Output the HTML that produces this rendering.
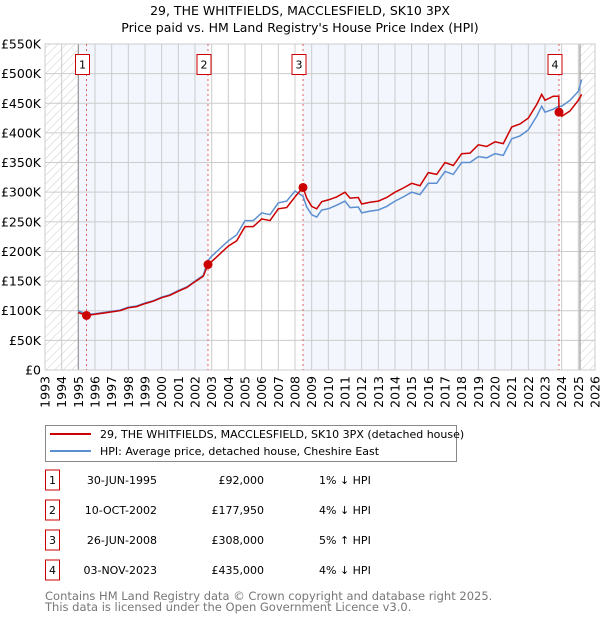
<!DOCTYPE html>
<html><head><meta charset="utf-8"><style>
body{margin:0;background:#fff;font-family:"DejaVu Sans","Liberation Sans",sans-serif}
svg text{font-family:"DejaVu Sans","Liberation Sans",sans-serif}
</style></head><body>
<svg id="chart" width="600" height="620" viewBox="0 0 600 620" xmlns="http://www.w3.org/2000/svg">
<defs><pattern id="hatch" width="6" height="6" patternUnits="userSpaceOnUse" patternTransform="rotate(45)"><line x1="0" y1="0" x2="0" y2="6" stroke="#ccc" stroke-width="1"/></pattern></defs>
<text x="300" y="15" text-anchor="middle" font-size="12.5">29, THE WHITFIELDS, MACCLESFIELD, SK10 3PX</text>
<text x="300" y="32" text-anchor="middle" font-size="12.5">Price paid vs. HM Land Registry's House Price Index (HPI)</text>
<g id="bg"></g><g id="grid"></g><g id="series"></g><g id="axes"></g>
<g>
<rect x="45.5" y="425.5" width="411" height="36" fill="#fff" stroke="#888"/>
<line x1="50" y1="434" x2="91" y2="434" stroke="#cc0000" stroke-width="2"/>
<text x="100" y="438" font-size="11">29, THE WHITFIELDS, MACCLESFIELD, SK10 3PX (detached house)</text>
<line x1="50" y1="451" x2="91" y2="451" stroke="#5b8fd0" stroke-width="2"/>
<text x="100" y="455" font-size="11">HPI: Average price, detached house, Cheshire East</text>
</g>
<g id="table" font-size="11"></g>
<text x="45" y="600" font-size="11.5" fill="#777">Contains HM Land Registry data © Crown copyright and database right 2025.</text>
<text x="45" y="611" font-size="11.5" fill="#777">This data is licensed under the Open Government Licence v3.0.</text>
</svg>
<script>
const dates=[1995.0,1995.5,1996.0,1996.5,1997.0,1997.5,1998.0,1998.5,1999.0,1999.5,2000.0,2000.5,2001.0,2001.5,2002.0,2002.5,2002.78,2003.0,2003.5,2004.0,2004.5,2005.0,2005.5,2006.0,2006.5,2007.0,2007.5,2008.0,2008.48,2008.7,2009.0,2009.3,2009.6,2010.0,2010.5,2011.0,2011.3,2011.8,2012.0,2012.5,2013.0,2013.5,2014.0,2014.5,2015.0,2015.5,2016.0,2016.5,2017.0,2017.5,2018.0,2018.5,2019.0,2019.5,2020.0,2020.5,2021.0,2021.5,2022.0,2022.5,2022.8,2023.0,2023.5,2023.83,2023.84,2024.0,2024.5,2025.0,2025.2];
const hpiValues=[100,94,95,97,99,101,106,108,113,117,123,127,134,140,150,160,185,192,205,218,228,252,252,265,262,282,285,302,293,275,262,258,270,272,278,285,274,275,265,268,270,276,285,292,300,296,315,315,335,330,350,350,360,358,365,362,390,395,405,428,445,435,440,445,445,445,455,470,490];
const priceValues=[97,92,94,96,98,100,105,107,112,116,122,126,133,139,149,158,178,183,196,209,218,242,242,255,252,272,274,292,308,290,276,272,284,287,292,300,290,291,280,283,285,291,300,307,315,311,333,330,350,345,365,366,380,377,385,382,410,415,425,448,465,455,462,462,435,428,437,455,465];
const saleDates=[1995.49,2002.78,2008.48,2023.84];
const salePrices=[92,177.95,308,435];
const saleLabels=["1","2","3","4"];
const saleDateText=["30-JUN-1995","10-OCT-2002","26-JUN-2008","03-NOV-2023"];
const salePriceText=["£92,000","£177,950","£308,000","£435,000"];
const saleHpiText=["1% ↓ HPI","4% ↓ HPI","5% ↑ HPI","4% ↓ HPI"];
const yTicks=[0,50,100,150,200,250,300,350,400,450,500,550];
const yTickLabels=["£0","£50K","£100K","£150K","£200K","£250K","£300K","£350K","£400K","£450K","£500K","£550K"];
const xYears=[1993,1994,1995,1996,1997,1998,1999,2000,2001,2002,2003,2004,2005,2006,2007,2008,2009,2010,2011,2012,2013,2014,2015,2016,2017,2018,2019,2020,2021,2022,2023,2024,2025,2026];

const L=45,R=595,T=44,B=370,X0=1993,X1=2026,YMAX=550;
const sx=v=>L+(v-X0)/(X1-X0)*(R-L);
const sy=v=>B-v/YMAX*(B-T);
const NS="http://www.w3.org/2000/svg";
function mk(parent,tag,attrs,txt){const e=document.createElementNS(NS,tag);for(const k in attrs)e.setAttribute(k,attrs[k]);if(txt!==undefined)e.textContent=txt;document.getElementById(parent).appendChild(e);return e;}

let e;
e=mk('bg','rect',{x:L,y:T,width:R-L,height:B-T,fill:'#fff'});


e=mk('bg','rect',{x:sx(1995),y:T,width:sx(saleDates[1])-sx(1995),height:B-T,fill:'#f3f6fd'});


e=mk('bg','rect',{x:sx(saleDates[2]),y:T,width:sx(saleDates[3])-sx(saleDates[2]),height:B-T,fill:'#f3f6fd'});


e=mk('bg','rect',{x:L,y:T,width:sx(1995)-L,height:B-T,fill:'url(#hatch)'});


e=mk('bg','rect',{x:sx(2025.1),y:T,width:R-sx(2025.1),height:B-T,fill:'url(#hatch)'});



yTicks.forEach((v,i)=>{
 e=mk('grid','line',{x1:L,x2:R,y1:sy(v),y2:sy(v),stroke:'#ccc','stroke-width':1});
 
 
 e=mk('axes','text',{x:L-4,y:sy(v)+4.5,'text-anchor':'end','font-size':12.5},yTickLabels[i]);
 
 
});
xYears.forEach(yr=>{
 e=mk('grid','line',{x1:sx(yr),x2:sx(yr),y1:T,y2:B,stroke:'#ccc','stroke-width':1});
 
 
 const x=sx(yr)+4.5;
 e=mk('axes','text',{x:x,y:376,'text-anchor':'end','font-size':12.5,transform:`rotate(-90 ${x} 376)`},String(yr));
 
 
});
[1995,2025.1].forEach(v=>{
 e=mk('grid','line',{x1:sx(v),x2:sx(v),y1:T,y2:B,stroke:'#999','stroke-width':1.2});
 
 
});
e=mk('grid','rect',{x:L,y:T,width:R-L,height:B-T,fill:'none',stroke:'#ccc'});



saleDates.forEach((d,i)=>{
 e=mk('series','line',{x1:sx(d),x2:sx(d),y1:T,y2:B,stroke:'#e06060','stroke-width':1,'stroke-dasharray':'2,3'});
 
 
});

const pts=arr=>arr.map((v,i)=>sx(dates[i]).toFixed(1)+','+sy(v).toFixed(1)).join(' ');
e=mk('series','polyline',{points:pts(hpiValues),fill:'none',stroke:'#5b8fd0','stroke-width':1.5});


e=mk('series','polyline',{points:pts(priceValues),fill:'none',stroke:'#cc0000','stroke-width':1.5});



saleDates.forEach((d,i)=>{
 e=mk('series','circle',{cx:sx(d),cy:sy(salePrices[i]),r:4.5,fill:'#cc0000'});
 
 
 e=mk('series','rect',{x:sx(d)-11,y:54.5,width:14,height:20,fill:'#fff',stroke:'#cc0000'});
 
 
 e=mk('series','text',{x:sx(d)-4,y:68.5,'text-anchor':'middle','font-size':11},saleLabels[i]);
 
 
});

const rowY=[484,514,544,574];
saleLabels.forEach((lab,i)=>{
 const y=rowY[i];
 e=mk('table','rect',{x:45.5,y:y-14,width:14,height:20,fill:'#fff',stroke:'#cc0000'});
 
 
 e=mk('table','text',{x:52.5,y:y,'text-anchor':'middle'},lab);
 
 
 e=mk('table','text',{x:157,y:y,'text-anchor':'end'},saleDateText[i]);
 
 
 e=mk('table','text',{x:264,y:y,'text-anchor':'end'},salePriceText[i]);
 
 
 e=mk('table','text',{x:319,y:y},saleHpiText[i]);
 
 
});
</script>
</body></html>
